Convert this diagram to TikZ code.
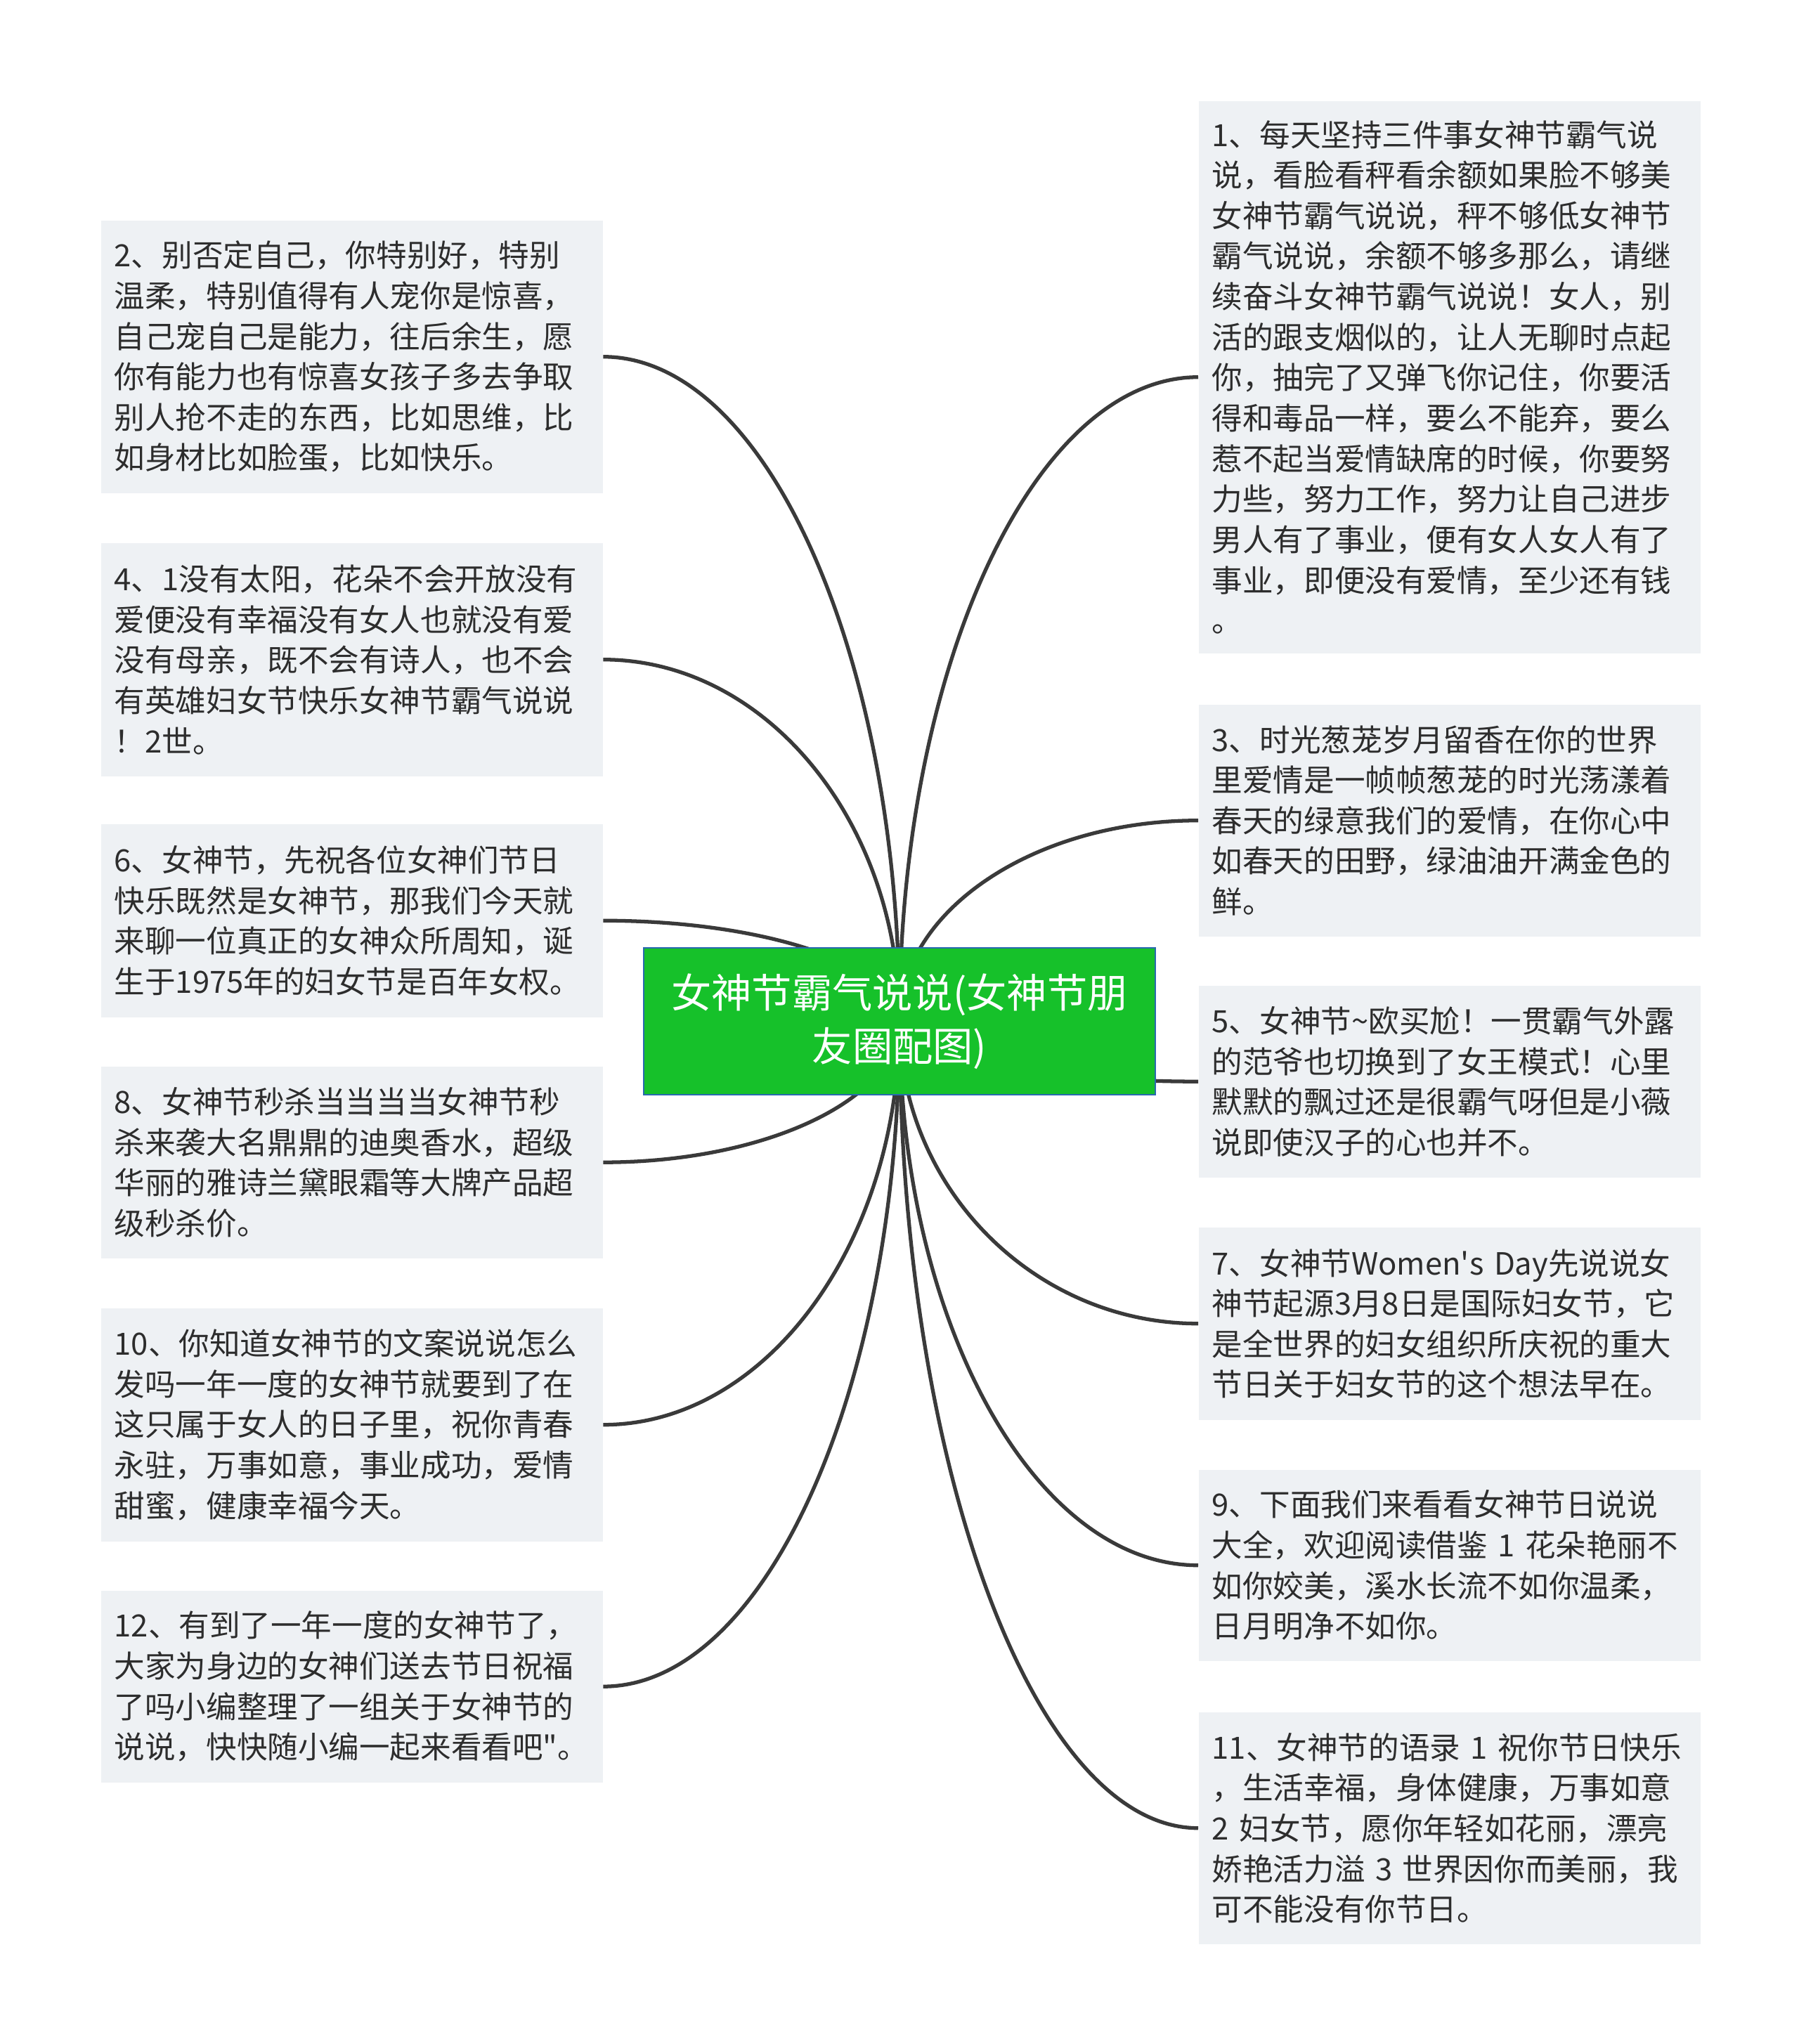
\documentclass[tikz,border=0pt]{standalone}
\usepackage{fontspec}
\setmainfont{Noto Sans CJK SC}
\usetikzlibrary{calc,backgrounds}
\definecolor{rootgreen}{RGB}{22,193,42}
\definecolor{rootedge}{RGB}{40,105,175}
\definecolor{leafgray}{RGB}{238,241,244}
\definecolor{linegray}{RGB}{58,58,58}
\definecolor{textgray}{RGB}{45,45,45}

\begin{document}
\begin{tikzpicture}[
  leaf/.style={fill=leafgray, text=textgray, anchor=north west, align=left,
    text width=6.76cm, inner xsep=0.19cm, inner ysep=0pt,
    font=\fontsize{12.4}{16.4}\selectfont},
  root/.style={fill=rootgreen, draw=rootedge, line width=0.6pt, text=white,
    align=center, minimum width=7.28cm, minimum height=2.09cm,
    font=\fontsize{16.3}{21.6}\selectfont},
  branch/.style={draw=linegray, line width=1.5pt}
]
  \useasboundingbox (0,0) rectangle (25.6,-29.09);
  % Central topic
  \node[root] (root) at (12.8,-14.535) {女神节霸气说说(女神节朋\\友圈配图)};
  % Left column
  \node[leaf, minimum height=3.88cm] (l2) at (1.43,-3.13) {2、别否定自己，你特别好，特别\\温柔，特别值得有人宠你是惊喜，\\自己宠自己是能力，往后余生，愿\\你有能力也有惊喜女孩子多去争取\\别人抢不走的东西，比如思维，比\\如身材比如脸蛋，比如快乐。};
  \node[leaf, minimum height=3.32cm] (l4) at (1.43,-7.72) {4、1没有太阳，花朵不会开放没有\\爱便没有幸福没有女人也就没有爱\\没有母亲，既不会有诗人，也不会\\有英雄妇女节快乐女神节霸气说说\\！2世。};
  \node[leaf, minimum height=2.75cm] (l6) at (1.43,-11.72) {6、女神节，先祝各位女神们节日\\快乐既然是女神节，那我们今天就\\来聊一位真正的女神众所周知，诞\\生于1975年的妇女节是百年女权。};
  \node[leaf, minimum height=2.73cm] (l8) at (1.43,-15.17) {8、女神节秒杀当当当当女神节秒\\杀来袭大名鼎鼎的迪奥香水，超级\\华丽的雅诗兰黛眼霜等大牌产品超\\级秒杀价。};
  \node[leaf, minimum height=3.32cm] (l10) at (1.43,-18.61) {10、你知道女神节的文案说说怎么\\发吗一年一度的女神节就要到了在\\这只属于女人的日子里，祝你青春\\永驻，万事如意，事业成功，爱情\\甜蜜，健康幸福今天。};
  \node[leaf, minimum height=2.73cm] (l12) at (1.43,-22.63) {12、有到了一年一度的女神节了，\\大家为身边的女神们送去节日祝福\\了吗小编整理了一组关于女神节的\\说说，快快随小编一起来看看吧\textquotedbl。};
  % Right column
  \node[leaf, minimum height=7.86cm] (r1) at (17.05,-1.43) {1、每天坚持三件事女神节霸气说\\说，看脸看秤看余额如果脸不够美\\女神节霸气说说，秤不够低女神节\\霸气说说，余额不够多那么，请继\\续奋斗女神节霸气说说！女人，别\\活的跟支烟似的，让人无聊时点起\\你，抽完了又弹飞你记住，你要活\\得和毒品一样，要么不能弃，要么\\惹不起当爱情缺席的时候，你要努\\力些，努力工作，努力让自己进步\\男人有了事业，便有女人女人有了\\事业，即便没有爱情，至少还有钱\\。};
  \node[leaf, minimum height=3.30cm] (r3) at (17.05,-10.02) {3、时光葱茏岁月留香在你的世界\\里爱情是一帧帧葱茏的时光荡漾着\\春天的绿意我们的爱情，在你心中\\如春天的田野，绿油油开满金色的\\鲜。};
  \node[leaf, minimum height=2.73cm] (r5) at (17.05,-14.02) {5、女神节\textasciitilde 欧买尬！一贯霸气外露\\的范爷也切换到了女王模式！心里\\默默的飘过还是很霸气呀但是小薇\\说即使汉子的心也并不。};
  \node[leaf, minimum height=2.74cm] (r7) at (17.05,-17.46) {7、女神节Women\textquotesingle s~Day先说说女\\神节起源3月8日是国际妇女节，它\\是全世界的妇女组织所庆祝的重大\\节日关于妇女节的这个想法早在。};
  \node[leaf, minimum height=2.72cm] (r9) at (17.05,-20.91) {9、下面我们来看看女神节日说说\\大全，欢迎阅读借鉴~1~花朵艳丽不\\如你姣美，溪水长流不如你温柔，\\日月明净不如你。};
  \node[leaf, minimum height=3.30cm] (r11) at (17.05,-24.36) {11、女神节的语录~1~祝你节日快乐\\，生活幸福，身体健康，万事如意\\2~妇女节，愿你年轻如花丽，漂亮\\娇艳活力溢~3~世界因你而美丽，我\\可不能没有你节日。};
  % Branches (behind the nodes)
  \begin{scope}[on background layer]
    \fill[white] (0,0) rectangle (25.6,-29.09);
    \foreach \n in {l2,l4,l6,l8,l10,l12}
      \draw[branch] (root.center) .. controls ($(root.center)!0.55!(root.center |- \n.east)$) and ($(\n.east)!0.55!(root.center |- \n.east)$) .. (\n.east);
    \foreach \n in {r1,r3,r5,r7,r9,r11}
      \draw[branch] (root.center) .. controls ($(root.center)!0.55!(root.center |- \n.west)$) and ($(\n.west)!0.55!(root.center |- \n.west)$) .. (\n.west);
  \end{scope}
\end{tikzpicture}
\end{document}
